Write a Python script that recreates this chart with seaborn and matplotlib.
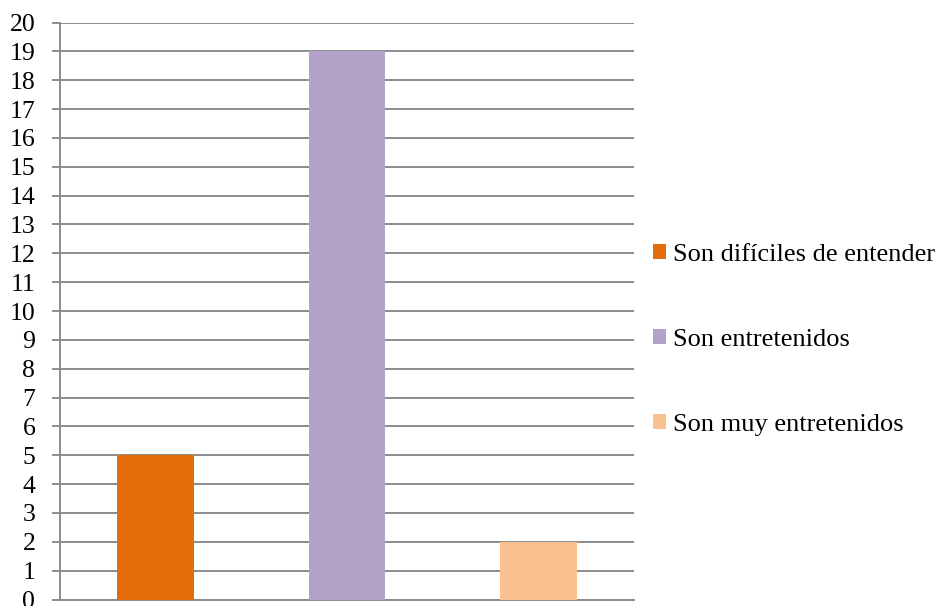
import matplotlib
matplotlib.use("Agg")
import matplotlib.pyplot as plt
import seaborn as sns
import pandas as pd
from matplotlib.patches import Patch

categories = ["Son difíciles de entender", "Son entretenidos", "Son muy entretenidos"]
values = [5, 19, 2]
colors = ["#E46C0A", "#B3A2C7", "#FAC090"]
yticks = list(range(0, 21))

sns.set_theme(style="white")
plt.rcParams['font.family'] = ['Liberation Serif', 'DejaVu Serif']
plt.rcParams['text.color'] = 'black'

df = pd.DataFrame({"cat": categories, "val": values})

fig = plt.figure(figsize=(9.4, 6.06), dpi=100)
ax = fig.add_axes([60/940, 6.5/606, (634-60)/940, (599.5-22.5)/606])

sns.barplot(data=df, x="cat", y="val", hue="cat", palette=colors, width=0.4,
            ax=ax, legend=False, saturation=1, zorder=3, linewidth=0)

ax.set_ylim(0, 20)
ax.set_yticks(yticks)
ax.set_yticklabels([str(t) for t in yticks], fontsize=18.5)
ax.set_xticks([])
ax.set_xlabel("")
ax.set_ylabel("")
ax.grid(axis="y", color="#8c8c8c", linewidth=1.4, zorder=0)
ax.set_axisbelow(True)
for s in ["top", "right"]:
    ax.spines[s].set_visible(False)
ax.spines["left"].set_color("#8c8c8c")
ax.spines["left"].set_linewidth(1.4)
ax.spines["bottom"].set_color("#8c8c8c")
ax.spines["bottom"].set_linewidth(1.4)
ax.tick_params(axis="y", which="both", left=True, length=5.8, width=1.4,
               color="#8c8c8c", pad=12, labelcolor="black")

handles = [Patch(facecolor=c, edgecolor="none") for c in colors]
leg = fig.legend(handles, categories, loc="center left",
                 bbox_to_anchor=(653/940, 1 - 340/606),
                 frameon=False, fontsize=19, handlelength=0.5, handleheight=0.5,
                 handletextpad=0.25, labelspacing=2.4, borderpad=0, borderaxespad=0,
                 labelcolor="black")

fig.savefig("out.png", dpi=100)
